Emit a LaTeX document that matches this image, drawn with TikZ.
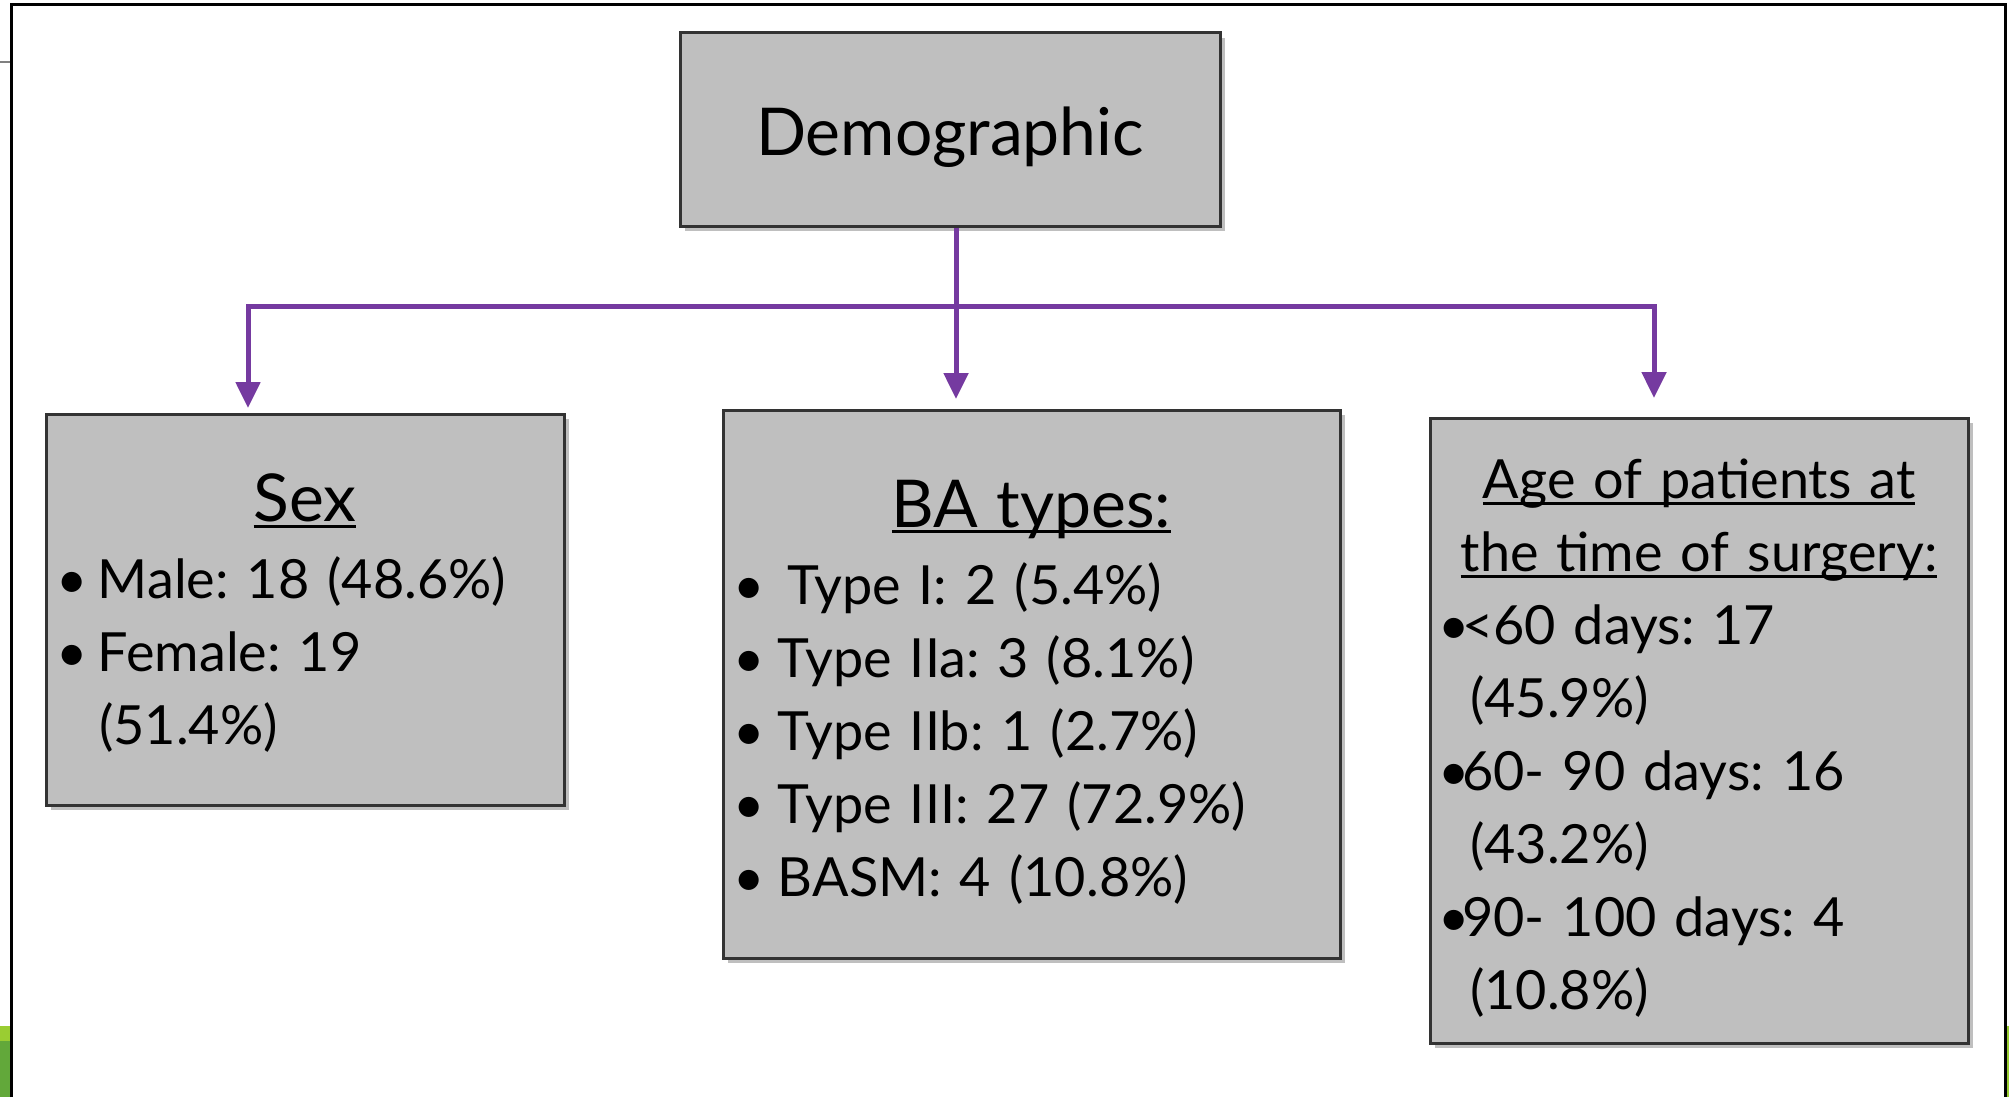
\documentclass[tikz,border=0pt]{standalone}
\usepackage{fontspec}
\setmainfont{Lato}
\usetikzlibrary{arrows.meta,shadows}
\setlength{\parindent}{0pt}
\frenchspacing

\definecolor{viola}{RGB}{117,58,160}
\definecolor{grigio}{RGB}{191,191,191}
\definecolor{verdechiaro}{RGB}{154,205,50}
\definecolor{verdescuro}{RGB}{98,168,58}

% punto elenco con larghezza fissa e sottolineatura
\newcommand\blt[3][3pt]{\makebox[#2][l]{\kern-#1\textbullet}#3}
\newcommand\ulin[1]{\leavevmode\setbox0\hbox{#1}\rlap{\rule[-6pt]{\wd0}{3pt}}\box0}

\begin{document}
\begin{tikzpicture}[
    x=1pt, y=-1pt,
    >={Triangle[width=24pt,length=26pt]},
    scatola/.style={rectangle, draw=black!80, line width=3pt, fill=grigio,
        inner xsep=17pt, inner ysep=0pt,
        drop shadow={shadow xshift=5pt, shadow yshift=-5pt, opacity=0.25, fill=black},
        font=\fontsize{54}{73}\selectfont},
    titolo/.style={scatola, font=\fontsize{66}{70}\selectfont},
    freccia/.style={draw=viola, line width=5pt},
    cornice/.style={draw=black, line width=3pt}
]

    % area della pagina
    \useasboundingbox (0,0) rectangle (2009,1097);

    % 1. Cornice e bordi della slide
    \draw[gray, line width=2pt] (0,62) -- (11,62);
    \fill[verdechiaro] (0,1026) rectangle (10,1041);
    \fill[verdescuro] (0,1041) rectangle (10,1097);
    \fill[verdechiaro] (2006,1026) rectangle (2009,1097);
    \draw[cornice] (11,1097) -- (11,5) -- (2005,5) -- (2005,1097);

    % 2. Riquadri
    \node[titolo, minimum width=540pt, minimum height=193pt,
          text height=64pt, text depth=13pt] (demo) at (950,129.5) {Demographic};

    \node[scatola, inner xsep=13pt, text width=492pt, minimum height=391pt] (sex) at (305,609.5) {%
        \vspace*{-18pt}
        \makebox[\linewidth]{\fontsize{66}{70}\selectfont\ulin{Sex}}\par
        \vspace{4pt}
        \blt{39pt}{Male: 18 (48.6\%)}\\
        \blt{39pt}{Female: 19}\\
        \hspace*{40pt}(51.4\%)};

    \node[scatola, text width=583pt, minimum height=548pt] (ba) at (1031.5,684) {%
        \vspace*{-10pt}
        \makebox[\linewidth]{\fontsize{66}{70}\selectfont\ulin{BA types:}}\par
        \vspace{4pt}
        \blt[7pt]{47pt}{Type I: 2 (5.4\%)}\\
        \blt[7pt]{38pt}{Type IIa: 3 (8.1\%)}\\
        \blt[7pt]{38pt}{Type IIb: 1 (2.7\%)}\\
        \blt[7pt]{38pt}{Type III: 27 (72.9\%)}\\
        \blt[7pt]{38pt}{BASM: 4 (10.8\%)}};

    \node[scatola, inner xsep=13pt, text width=512pt, minimum height=625pt] (age) at (1699,730.5) {%
        \vspace*{-18pt}
        \makebox[\linewidth]{\ulin{Age of patients at}}\\
        \makebox[\linewidth]{\ulin{the time of surgery:}}\\
        \blt[5pt]{19pt}{<60 days: 17}\\
        \hspace*{27pt}(45.9\%)\\
        \blt[5pt]{19pt}{60- 90 days: 16}\\
        \hspace*{27pt}(43.2\%)\\
        \blt[5pt]{19pt}{90- 100 days: 4}\\
        \hspace*{27pt}(10.8\%)};

    % 3. Collegamenti
    \coordinate (nodo) at (956,306);
    \coordinate (pSex) at (248,408);
    \coordinate (pBA)  at (956,399);
    \coordinate (pAge) at (1654,398);

    \draw[freccia, ->] (demo.south -| pBA) -- (pBA);
    \draw[freccia, <->] (pSex) |- (nodo) -| (pAge);

\end{tikzpicture}
\end{document}
